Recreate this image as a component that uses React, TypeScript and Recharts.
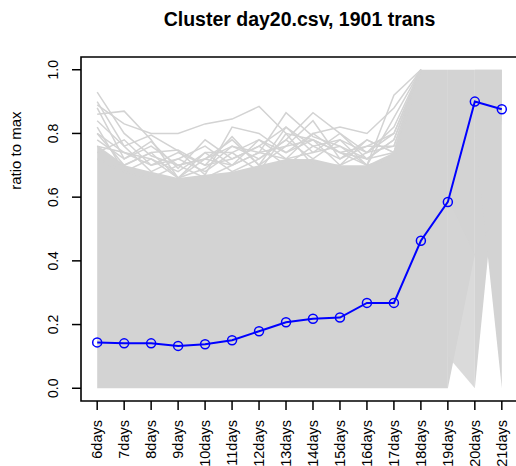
import React from 'react';
import { ComposedChart, Line, Area, XAxis, YAxis, ReferenceArea } from 'recharts';

const days = ['6days', '7days', '8days', '9days', '10days', '11days', '12days', '13days',
  '14days', '15days', '16days', '17days', '18days', '19days', '20days', '21days'];

// blue profile (cluster centre)
const clusterMean = [0.144, 0.141, 0.141, 0.133, 0.138, 0.151, 0.179, 0.207,
  0.218, 0.222, 0.268, 0.268, 0.463, 0.585, 0.900, 0.876];

// top of the solid grey mass of transcripts, 6days..19days
const denseTop = [0.76, 0.70, 0.68, 0.66, 0.67, 0.68, 0.70, 0.72,
  0.72, 0.70, 0.70, 0.74, 1.0, 1.0, null, null];

// grey bundles on the right side: [low, high] at the two ends
const fanA = { from: 13, low: [0, 0.42], high: [1, 1] };
const fanB = { from: 13, low: [0.1, 0], high: [0.6, 0.42] };
const fanC = { from: 14, low: [0, 0.85], high: [1, 1] };
const fanD = { from: 14, low: [0.8, 0], high: [1, 1] };

// stray transcripts sticking out above the mass
const stray1 = [0.89, 0.83, 0.80, 0.80, 0.83, 0.845, 0.885, 0.80, 0.78, 0.74, 0.76, 0.80, 1.0];
const stray2 = [0.93, 0.80, 0.73, 0.70, 0.72, 0.70, 0.74, 0.865, 0.79, 0.76, 0.72, 0.74, 1.0];
const stray3 = [0.86, 0.87, 0.78, 0.66, 0.69, 0.76, 0.72, 0.78, 0.865, 0.80, 0.74, 0.76, 1.0];
const stray4 = [0.84, 0.76, 0.795, 0.745, 0.67, 0.82, 0.80, 0.74, 0.80, 0.82, 0.80, 0.88, 1.0];
const stray5 = [0.88, 0.72, 0.775, 0.69, 0.78, 0.72, 0.76, 0.82, 0.76, 0.78, 0.70, 0.92, 1.0];
const stray6 = [0.80, 0.70, 0.74, 0.748, 0.70, 0.79, 0.70, 0.76, 0.84, 0.72, 0.78, 0.74, 1.0];
const stray7 = [0.76, 0.74, 0.70, 0.72, 0.76, 0.70, 0.78, 0.72, 0.74, 0.76, 0.70, 0.85, 1.0];
const stray8 = [0.82, 0.68, 0.72, 0.66, 0.74, 0.74, 0.68, 0.80, 0.70, 0.70, 0.74, 0.82, 1.0];
const stray9 = [0.78, 0.72, 0.76, 0.70, 0.72, 0.76, 0.74, 0.76, 0.78, 0.74, 0.72, 0.78, 1.0];
const stray10 = [0.74, 0.78, 0.70, 0.74, 0.70, 0.72, 0.76, 0.70, 0.76, 0.72, 0.76, 0.76, 1.0];
const stray11 = [0.80, 0.74, 0.72, 0.68, 0.74, 0.68, 0.72, 0.78, 0.72, 0.78, 0.74, 0.80, 1.0];
const stray12 = [0.90, 0.76, 0.68, 0.72, 0.68, 0.74, 0.78, 0.74, 0.78, 0.70, 0.78, 0.74, 1.0];
const stray13 = [0.76, 0.70, 0.74, 0.66, 0.72, 0.78, 0.70, 0.82, 0.74, 0.80, 0.72, 0.78, 1.0];
const stray14 = [0.72, 0.68, 0.66, 0.70, 0.66, 0.70, 0.74, 0.72, 0.80, 0.74, 0.70, 0.72, 1.0];
const strays = [stray1, stray2, stray3, stray4, stray5, stray6, stray7,
  stray8, stray9, stray10, stray11, stray12, stray13, stray14];

const yTicks = [0, 0.2, 0.4, 0.6, 0.8, 1.0];

const fanAt = (fan: { from: number; low: number[]; high: number[] }, i: number) => {
  const k = i - fan.from;
  if (k !== 0 && k !== 1) return null;
  return [fan.low[k], fan.high[k]];
};

const data = days.map((d, i) => {
  const row: any = {
    x: i + 1,
    mean: clusterMean[i],
    dense: denseTop[i] == null ? null : [0, denseTop[i]],
    fanA: fanAt(fanA, i),
    fanB: fanAt(fanB, i),
    fanC: fanAt(fanC, i),
    fanD: fanAt(fanD, i),
  };
  strays.forEach((s, j) => {
    row['g' + j] = i < s.length ? s[i] : null;
  });
  return row;
});

const GREY = '#D3D3D3';
const FONT = '"Liberation Sans", Arial, Helvetica, sans-serif';

const XTick = (props: any) => {
  const { x, y, payload } = props;
  const tx = x + 5;
  const ty = y + 8;
  return (
    <text x={tx} y={ty} transform={`rotate(-90 ${tx} ${ty})`} textAnchor="end"
      fontSize={14.5} fontFamily={FONT} fill="#000">
      {days[payload.value - 1]}
    </text>
  );
};

const YTick = (props: any) => {
  const { x, y, payload } = props;
  const tx = x - 12;
  return (
    <text x={tx} y={y} transform={`rotate(-90 ${tx} ${y})`} textAnchor="middle"
      fontSize={14} fontFamily={FONT} fill="#000">
      {Number(payload.value).toFixed(1)}
    </text>
  );
};

export default function App() {
  return (
    <div style={{ position: 'absolute', left: 0, top: 0, width: 516, height: 466, overflow: 'hidden', background: '#fff' }}>
      <div style={{ position: 'absolute', left: 81, width: 437, top: 7, textAlign: 'center', fontFamily: FONT, fontWeight: 'bold', fontSize: 19.5, lineHeight: '24px' }}>
        Cluster day20.csv, 1901 trans
      </div>
      <div style={{ position: 'absolute', left: 23, top: 229, width: 0, height: 0 }}>
        <div style={{ position: 'absolute', left: 0, bottom: 0, transform: 'rotate(-90deg) translateX(50%)', transformOrigin: '0 100%', whiteSpace: 'nowrap', fontFamily: FONT, fontSize: 15, lineHeight: '15px' }}>
          ratio to max
        </div>
      </div>
      <ComposedChart width={520} height={466} data={data} margin={{ top: 57, right: 2, bottom: 0, left: 0 }}>
        <XAxis type="number" dataKey="x" domain={[0.4, 16.6]} ticks={days.map((_, i) => i + 1)}
          interval={0} height={65} tickSize={9} axisLine={false} tickLine={{ stroke: '#000', strokeWidth: 1.5 }}
          tick={<XTick />} allowDataOverflow />
        <YAxis type="number" domain={[-0.04, 1.04]} ticks={yTicks} width={81} tickSize={9}
          axisLine={false} tickLine={{ stroke: '#000', strokeWidth: 1.5 }} tick={<YTick />} allowDataOverflow />
        <Area dataKey="dense" type="linear" stroke="none" fill={GREY} fillOpacity={1} isAnimationActive={false} />
        <Area dataKey="fanA" type="linear" stroke="none" fill={GREY} fillOpacity={1} isAnimationActive={false} />
        <Area dataKey="fanB" type="linear" stroke="none" fill={GREY} fillOpacity={0.85} isAnimationActive={false} />
        <Area dataKey="fanC" type="linear" stroke="none" fill={GREY} fillOpacity={1} isAnimationActive={false} />
        <Area dataKey="fanD" type="linear" stroke="none" fill={GREY} fillOpacity={1} isAnimationActive={false} />
        {strays.map((_, j) => (
          <Line key={j} dataKey={'g' + j} type="linear" stroke={GREY} strokeWidth={1.5} dot={false}
            isAnimationActive={false} />
        ))}
        <ReferenceArea x1={0.4} x2={16.6} y1={-0.04} y2={1.04} fill="none" stroke="#000" strokeWidth={1.6}
          ifOverflow="visible" />
        <Line dataKey="mean" type="linear" stroke="#0000FF" strokeWidth={2}
          dot={{ r: 4.5, stroke: '#0000FF', strokeWidth: 1.5, fill: 'none' }} isAnimationActive={false} />
      </ComposedChart>
    </div>
  );
}
